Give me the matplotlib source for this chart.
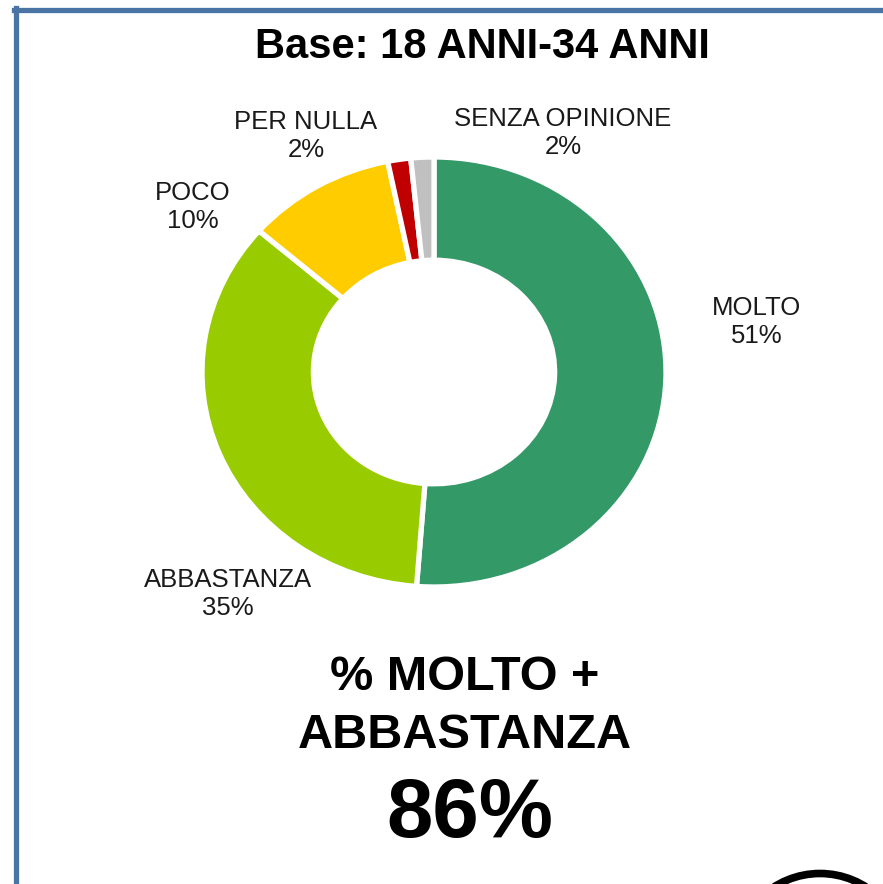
import matplotlib
matplotlib.use("Agg")
import matplotlib.pyplot as plt
from matplotlib.lines import Line2D
from matplotlib.patches import Ellipse

categories = ["MOLTO", "ABBASTANZA", "POCO", "PER NULLA", "SENZA OPINIONE"]
values = [51.2, 35.2, 10.4, 1.6, 1.6]
pct_labels = ["51%", "35%", "10%", "2%", "2%"]
colors = ["#339966", "#99CC00", "#FFCC00", "#C00000", "#C0C0C0"]
title = "Base: 18 ANNI-34 ANNI"
summary_lines = ["% MOLTO +", "ABBASTANZA"]
summary_value = "86%"

W, H = 883, 884
CX, CY = 434, 372      # pie centre in pixels
RX, RY = 232, 215      # the donut is slightly stretched horizontally

# label anchors in pie units (outer radius = 1)
label_pos = [(1.392, 0.233), (-0.888, -1.033), (-1.039, 0.767),
             (-0.552, 1.098), (0.556, 1.112)]

plt.rcParams["font.family"] = ["Liberation Sans", "DejaVu Sans"]

fig = plt.figure(figsize=(W / 100, H / 100), dpi=100)
ax = fig.add_axes([0, 0, 1, 1])

ax.pie(values, colors=colors, startangle=90, counterclock=False, radius=1,
       wedgeprops=dict(width=0.48, edgecolor="white", linewidth=3.8))

for cat, pct, (x, y) in zip(categories, pct_labels, label_pos):
    ax.text(x, y, f"{cat}\n{pct}", ha="center", va="center", fontsize=18.5,
            linespacing=1.2, color="#1a1a1a")

# partial black ring at the bottom-right corner
ax.add_patch(Ellipse(((820 - CX) / RX, (CY - 959) / RY), 2 * 85.5 / RX,
                     2 * 85.5 / RY, fill=False, edgecolor="black",
                     linewidth=5.5))

ax.set_xlim(-CX / RX, (W - CX) / RX)
ax.set_ylim(-(H - CY) / RY, CY / RY)
ax.set_aspect("auto")
ax.axis("off")

# frame
frame_col = "#4A74A4"
fig.add_artist(Line2D([16 / W, 16 / W], [0, 1 - 8 / H], color=frame_col,
                      linewidth=3.8, transform=fig.transFigure))
fig.add_artist(Line2D([14 / W, 1], [1 - 10 / H, 1 - 10 / H], color=frame_col,
                      linewidth=3.8, transform=fig.transFigure))

fig.text(482 / W, 1 - 47 / H, title, ha="center", va="center",
         fontsize=30, fontweight="bold")
fig.text(465 / W, 1 - 677 / H, summary_lines[0], ha="center", va="center",
         fontsize=35, fontweight="bold")
fig.text(465 / W, 1 - 735 / H, summary_lines[1], ha="center", va="center",
         fontsize=35, fontweight="bold")
fig.text(470 / W, 1 - 815 / H, summary_value, ha="center", va="center",
         fontsize=60, fontweight="bold")

plt.savefig("out.png", dpi=100)
